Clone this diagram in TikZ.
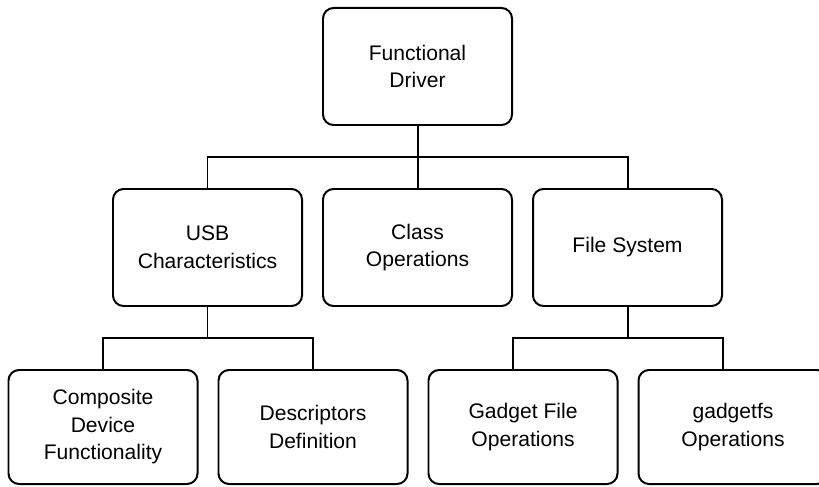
\documentclass[tikz,border=0pt]{standalone}
\usepackage{fontspec}
\setmainfont{Liberation Sans}
\begin{document}
\begin{tikzpicture}[x=0.03cm, y=-0.03cm,
    block/.style={draw, rounded corners=9pt, line width=1.7pt, align=center,
        minimum width=5.67cm, minimum height=3.51cm, inner sep=0pt,
        font=\fontsize{18}{23.5}\selectfont},
    leaf/.style={block, minimum height=3.42cm},
    link/.style={line width=1.7pt}]
    \clip (0,0) rectangle (819,487);
    \useasboundingbox (0,0) rectangle (819,487);

    % Boxes
    \node[block] (fd) at (417.5,66.5) {Functional\\Driver};
    \node[block] (usb) at (207.5,247.5) {USB\\Characteristics};
    \node[block] (cls) at (417.5,247.5) {Class\\Operations};
    \node[block] (fs) at (627.5,247.5) {File System};
    \node[leaf] (comp) at (103,427) {Composite\\Device\\Functionality};
    \node[leaf] (desc) at (313,427) {Descriptors\\Definition};
    \node[leaf] (gfo) at (523,427) {Gadget File\\Operations};
    \node[leaf] (gfs) at (733,427) {gadgetfs\\Operations};

    % Buses
    \coordinate (bus1) at (417.5,157);
    \coordinate (bus2) at (207.5,338);
    \coordinate (bus3) at (627.5,338);

    % Links
    \draw[link] (fd.south) -- (bus1) -- (cls.north);
    \draw[link] (usb.north) |- (bus1) -| (fs.north);
    \draw[link] (usb.south) -- (bus2);
    \draw[link] (comp.north) |- (bus2) -| (desc.north);
    \draw[link] (fs.south) -- (bus3);
    \draw[link] ([xshift=-0.3cm]gfo.north) |- (bus3) -| ([xshift=-0.3cm]gfs.north);
\end{tikzpicture}
\end{document}
